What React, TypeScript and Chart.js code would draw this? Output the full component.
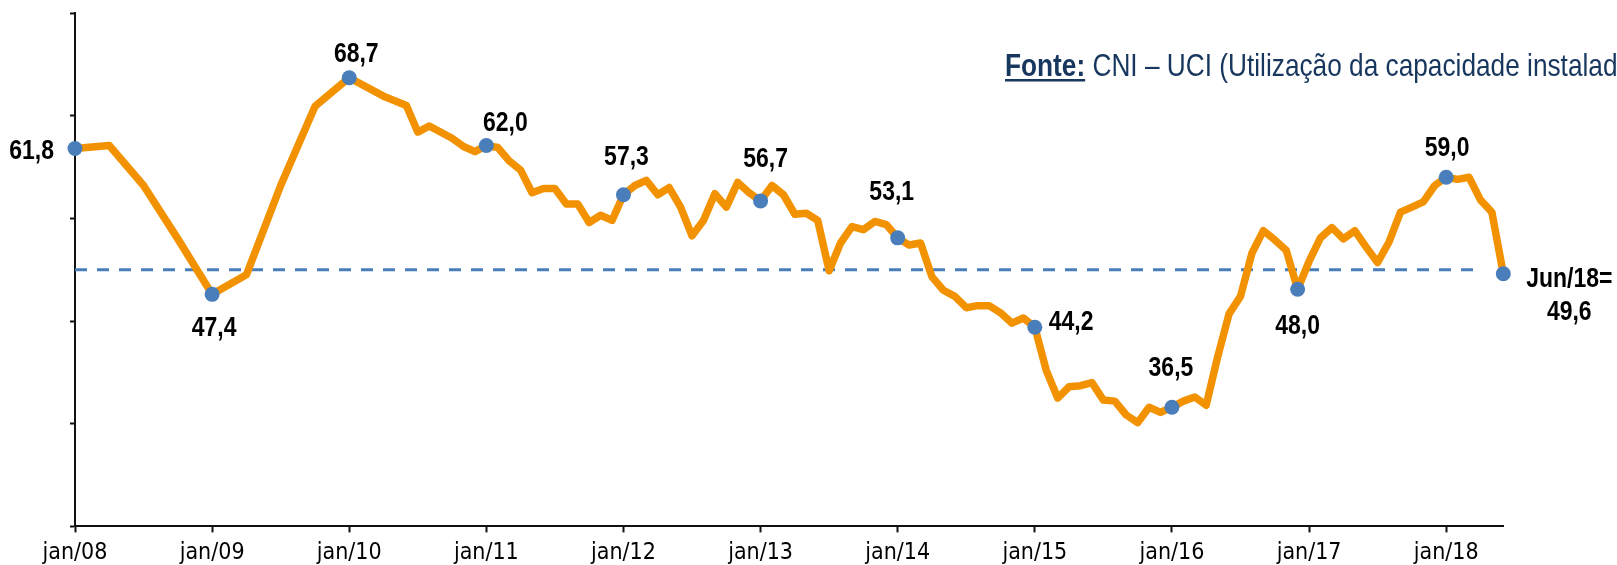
import React, { useEffect, useRef } from "react";
import { Chart, registerables } from "chart.js";

Chart.register(...registerables);

// month index counted from jan/08 (0) to jun/18 (125)
const months = [
  0, 3, 6, 9, 12, 15, 18, 21, 24, 27, 29, 30, 31, 33, 34, 35, 36, 37, 38, 39,
  40, 41, 42, 43, 44, 45, 46, 47, 48, 49, 50, 51, 52, 53, 54, 55, 56, 57, 58, 59,
  60, 61, 62, 63, 64, 65, 66, 67, 68, 69, 70, 71, 72, 73, 74, 75, 76, 77, 78, 79,
  80, 81, 82, 83, 84, 85, 86, 87, 88, 89, 90, 91, 92, 93, 94, 95, 96, 97, 98, 99,
  100, 101, 102, 103, 104, 105, 106, 107, 108, 109, 110, 111, 112, 113, 114, 115, 116, 117, 118, 119,
  120, 121, 122, 123, 124, 125,
];

const uci = [
  61.8, 62.1, 58.2, 53.0, 47.6, 49.5, 58.2, 65.9, 68.7, 66.9, 66.0, 63.4, 64.0, 62.8, 62.0, 61.5, 62.1, 61.9, 60.6, 59.7,
  57.5, 57.9, 57.9, 56.4, 56.4, 54.6, 55.3, 54.8, 57.3, 58.2, 58.7, 57.3, 58.0, 56.1, 53.3, 54.8, 57.4, 56.1, 58.5, 57.5,
  56.7, 58.2, 57.3, 55.4, 55.5, 54.8, 49.9, 52.6, 54.2, 53.9, 54.7, 54.4, 53.1, 52.4, 52.6, 49.3, 48.0, 47.4, 46.3, 46.5,
  46.5, 45.8, 44.8, 45.3, 44.4, 40.2, 37.5, 38.6, 38.7, 39.0, 37.3, 37.2, 35.85, 35.1, 36.6, 36.1, 36.6, 37.2, 37.6, 36.8,
  41.5, 45.7, 47.4, 51.6, 53.8, 52.9, 51.9, 48.1, 50.8, 53.1, 54.1, 53.0, 53.8, 52.2, 50.7, 52.7, 55.6, 56.1, 56.6, 58.2,
  59.0, 58.8, 59.0, 56.8, 55.6, 49.6,
];

const tickLabels = [
  "jan/08", "jan/09", "jan/10", "jan/11", "jan/12", "jan/13",
  "jan/14", "jan/15", "jan/16", "jan/17", "jan/18",
];

const markedMonths = [0, 12, 24, 36, 48, 60, 72, 84, 96, 107, 120, 125];
const markedLabels = [
  ["61,8"], ["47,4"], ["68,7"], ["62,0"], ["57,3"], ["56,7"],
  ["53,1"], ["44,2"], ["36,5"], ["48,0"], ["59,0"], ["Jun/18=", "49,6"],
];

const referenceLevel = 50;
const referenceSpan = [0, 122.5];

const sourceBold = "Fonte:";
const sourceText = " CNI \u2013 UCI (Utiliza\u00e7\u00e3o da capacidade instalada)";

// label placement (styling): dx, dy from the marker, text alignment
const labelPlacement: [number, number, CanvasTextAlign][] = [
  [-21, 3, "right"],
  [2, 34, "center"],
  [7, -23, "center"],
  [19, -22, "center"],
  [3, -37, "center"],
  [5, -42, "center"],
  [-6, -46, "center"],
  [14, -5, "left"],
  [-1, -39, "center"],
  [0, 37, "center"],
  [1, -29, "center"],
  [66, 5, "center"],
];

const ORANGE = "#F39200";
const BLUE = "#4A7EBB";
const NAVY = "#17375E";
const SANS = '"Liberation Sans", Arial, sans-serif';
const NARROW_X = 0.82;

function narrowText(
  ctx: CanvasRenderingContext2D,
  text: string,
  x: number,
  y: number,
  align: CanvasTextAlign,
) {
  ctx.save();
  ctx.translate(x, y);
  ctx.scale(NARROW_X, 1);
  ctx.textAlign = align;
  ctx.fillText(text, 0, 0);
  ctx.restore();
}

const overlayPlugin = {
  id: "overlayText",
  afterDatasetsDraw(chart: any) {
    const ctx = chart.ctx as CanvasRenderingContext2D;
    const xs = chart.scales.x;
    const ys = chart.scales.y;
    ctx.save();
    ctx.fillStyle = "#000";
    ctx.font = `bold 28px ${SANS}`;
    ctx.textBaseline = "middle";
    markedMonths.forEach((m, i) => {
      const v = uci[months.indexOf(m)];
      const px = xs.getPixelForValue(m);
      const py = ys.getPixelForValue(v);
      const [dx, dy, align] = labelPlacement[i];
      markedLabels[i].forEach((ln, k) => {
        narrowText(ctx, ln, px + dx, py + dy + k * 33, align);
      });
    });

    // source text
    const x0 = 1005;
    const base = 76;
    ctx.textBaseline = "alphabetic";
    ctx.fillStyle = NAVY;
    ctx.font = `bold 32px ${SANS}`;
    narrowText(ctx, sourceBold, x0, base, "left");
    const wb = ctx.measureText(sourceBold).width * NARROW_X;
    ctx.fillRect(x0, base + 3, wb, 2.5);
    ctx.font = `32px ${SANS}`;
    narrowText(ctx, sourceText, x0 + wb, base, "left");
    ctx.restore();
  },
};

export default function App() {
  const ref = useRef<HTMLCanvasElement>(null);

  useEffect(() => {
    const pts = months.map((m, i) => ({ x: m, y: uci[i] }));
    const refPts = referenceSpan.map((x) => ({ x, y: referenceLevel }));
    const chart = new Chart(ref.current as HTMLCanvasElement, {
      type: "line",
      data: {
        datasets: [
          {
            data: pts,
            borderColor: ORANGE,
            borderWidth: 7.5,
            borderJoinStyle: "round",
            tension: 0,
            clip: false,
            pointRadius: (c: any) => (markedMonths.includes(months[c.dataIndex]) ? 7.5 : 0),
            pointBackgroundColor: BLUE,
            pointBorderWidth: 0,
            pointHoverRadius: 0,
          } as any,
          {
            data: refPts,
            borderColor: BLUE,
            borderWidth: 3,
            borderDash: [12, 10],
            pointRadius: 0,
            tension: 0,
          },
        ],
      },
      options: {
        responsive: false,
        animation: false,
        events: [],
        layout: { padding: { left: 35, right: 113.7, top: 13, bottom: 0 } },
        plugins: { legend: { display: false }, tooltip: { enabled: false } },
        scales: {
          x: {
            type: "linear",
            min: 0,
            max: 125,
            afterFit: (s: any) => {
              s.height = 38.6;
            },
            grid: { drawOnChartArea: false, tickLength: 6, tickColor: "#111", tickWidth: 2 },
            border: { color: "#111", width: 2 },
            ticks: {
              stepSize: 12,
              includeBounds: false,
              autoSkip: false,
              maxRotation: 0,
              padding: 7,
              color: "#000",
              font: { family: '"DejaVu Sans Condensed", "DejaVu Sans", sans-serif', size: 23 },
              callback: (v: any) => tickLabels[Math.round(Number(v) / 12)] ?? "",
            },
          },
          y: {
            min: 25,
            max: 75,
            afterFit: (s: any) => {
              s.width = 40;
            },
            ticks: { display: false, stepSize: 10 },
            grid: { drawOnChartArea: false, tickLength: 5, tickColor: "#111", tickWidth: 2 },
            border: { color: "#111", width: 2 },
          },
        },
      },
      plugins: [overlayPlugin],
    });
    return () => chart.destroy();
  }, []);

  return (
    <div style={{ position: "fixed", left: 0, top: 0, width: 1617, height: 565, background: "#fff" }}>
      <canvas ref={ref} width={1617} height={565} style={{ display: "block" }} />
    </div>
  );
}
